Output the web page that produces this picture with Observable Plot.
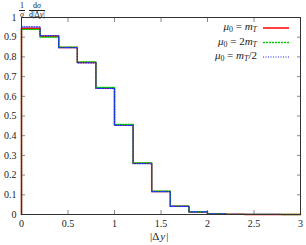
<!DOCTYPE html>
<html><head><meta charset="utf-8">
<script src="https://cdn.jsdelivr.net/npm/d3@7"></script>
<script src="https://cdn.jsdelivr.net/npm/@observablehq/plot@0.6"></script>
<style>
body{margin:0;background:#fff;font-family:"Liberation Serif","DejaVu Serif",serif;}
#wrap{position:relative;width:306px;height:245px;}
.ov{position:absolute;font-family:"Liberation Serif",serif;color:#222;white-space:nowrap;}
sub{font-size:72%;vertical-align:-0.3em;line-height:0}
</style></head><body>
<div id="wrap"></div>
<script>
const binEdges = [0,0.2,0.4,0.6,0.8,1.0,1.2,1.4,1.6,1.8,2.0,2.2,2.4,2.6,2.8,3.0];
const muMt   = [0.945,0.905,0.848,0.772,0.642,0.455,0.260,0.117,0.042,0.013,0.003,0.001,0.0005,0.0002,0.0001];
const mu2Mt  = [0.940,0.900,0.850,0.775,0.645,0.457,0.262,0.118,0.043,0.014,0.003,0.001,0.0005,0.0002,0.0001];
const muMt2  = [0.952,0.908,0.847,0.770,0.640,0.452,0.258,0.116,0.041,0.013,0.003,0.001,0.0005,0.0002,0.0001];
const seriesNames = ["mT","2mT","mT/2"];
const xTicks = [0,0.5,1,1.5,2,2.5,3];
const yTicks = [0,0.1,0.2,0.3,0.4,0.5,0.6,0.7,0.8,0.9,1];

function steps(vals){
  const pts=[{x:0,y:0}];
  vals.forEach((v,i)=>pts.push({x:binEdges[i],y:v}));
  pts.push({x:binEdges[binEdges.length-1],y:vals[vals.length-1]});
  return pts;
}
const styles=[
  {data:muMt,stroke:"#ff0000",dash:null,w:1.5},
  {data:mu2Mt,stroke:"#00cc00",dash:"2,1",w:1.3},
  {data:muMt2,stroke:"#2222ff",dash:"1,1.5",w:1.2}
];
const fmt = d => d===0?"0":String(d);
const chart = Plot.plot({
  width:306,height:245,
  marginLeft:21,marginRight:6,marginTop:17,marginBottom:31,
  x:{domain:[0,3]}, y:{domain:[0,1]},
  style:{fontFamily:"Liberation Serif, serif",fontSize:"10px",color:"#222",background:"#fff"},
  marks:[
    Plot.axisY({anchor:"left",ticks:yTicks,tickSize:-4,tickPadding:9,tickFormat:fmt,label:null,stroke:"#888",fontSize:10}),
    Plot.axisY({anchor:"right",ticks:yTicks,tickSize:-4,tickFormat:()=>"",label:null,stroke:"#888"}),
    Plot.axisX({anchor:"bottom",ticks:xTicks,tickSize:-4,tickPadding:9,tickFormat:fmt,label:null,stroke:"#888",fontSize:10}),
    Plot.axisX({anchor:"top",ticks:xTicks,tickSize:-4,tickFormat:()=>"",label:null,stroke:"#888"}),
    ...styles.map(s=>Plot.line(steps(s.data),{x:"x",y:"y",curve:"step-after",stroke:s.stroke,strokeWidth:s.w,strokeDasharray:s.dash})),
    Plot.frame({stroke:"#333",strokeWidth:1})
  ]
});
const wrap=document.getElementById("wrap");
wrap.appendChild(chart);
chart.style.position="absolute";chart.style.left="0";chart.style.top="0";

function ov(html,css){const d=document.createElement("div");d.className="ov";d.innerHTML=html;Object.assign(d.style,css);wrap.appendChild(d);return d;}
// y label (fraction)
ov('<div style="display:inline-block;text-align:center;vertical-align:middle;font-size:8px;line-height:7.5px"><div style="border-bottom:0.6px solid #222;padding:0 1px">1</div><div><i>σ</i></div></div> <div style="display:inline-block;text-align:center;vertical-align:middle;font-size:8px;line-height:7.5px"><div style="border-bottom:0.6px solid #222;padding:0 1px">d<i>σ</i></div><div>d|Δ<i>y</i>|</div></div>',{left:"19px",top:"0px"});
// x label
ov('|Δ<span style="font-style:italic;margin-left:1px;margin-right:1px">y</span>|',{left:"150px",top:"231px",fontSize:"11px",lineHeight:"11px"});
// legend
const leg=[['<i>μ</i><sub>0</sub> = <i>m</i><sub><i>T</i></sub>',0],['<i>μ</i><sub>0</sub> = 2<i>m</i><sub><i>T</i></sub>',1],['<i>μ</i><sub>0</sub> = <i>m</i><sub><i>T</i></sub>/2',2]];
leg.forEach(([h,i])=>{
  ov(h,{right:(306-257)+"px",top:(20+i*14.5)+"px",fontSize:"11px",textAlign:"right"});
});
const svgNS="http://www.w3.org/2000/svg";
const g=document.createElementNS(svgNS,"g");
styles.forEach((s,i)=>{
  const l=document.createElementNS(svgNS,"line");
  l.setAttribute("x1",263);l.setAttribute("x2",289);
  const yy=28+i*14.5;l.setAttribute("y1",yy);l.setAttribute("y2",yy);
  l.setAttribute("stroke",s.stroke);l.setAttribute("stroke-width",s.w);
  if(s.dash)l.setAttribute("stroke-dasharray",s.dash);
  g.appendChild(l);
});
chart.appendChild(g);
</script>
</body></html>
